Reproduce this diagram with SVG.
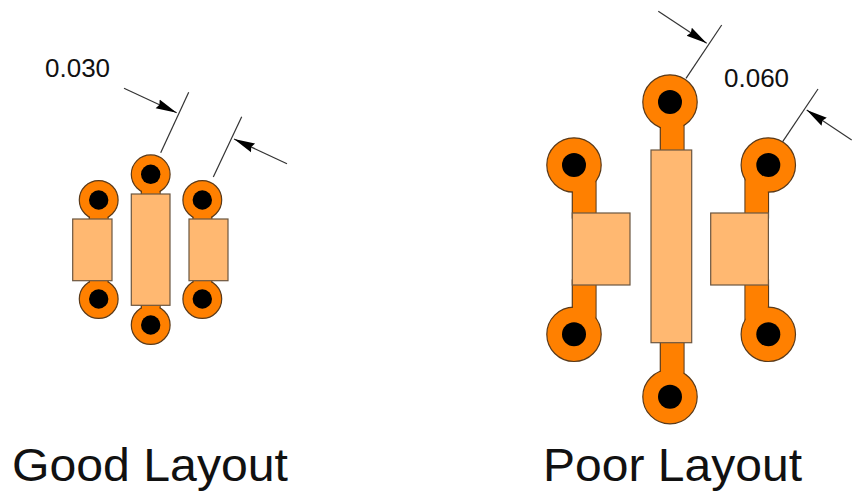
<svg xmlns="http://www.w3.org/2000/svg" width="852" height="491" viewBox="0 0 852 491">
<defs>
<style>
.cu{fill:#ff8000;stroke:#5a3a1a;stroke-width:1.2}
.nofill{fill:#ff8000;stroke:none}
.hole{fill:#000}
.pad{fill:#ffb871;stroke:#6b5640;stroke-width:1.2}
.dim{stroke:#333;stroke-width:1.2;fill:none}
.ar{stroke:#333;stroke-width:1.2;fill:none;marker-end:url(#a)}
text{font-family:"Liberation Sans",Arial,sans-serif;fill:#111}
.v{font-size:26px}
.t{font-size:46px}
</style>
<marker id="a" markerUnits="userSpaceOnUse" markerWidth="24" markerHeight="12" refX="21" refY="5" orient="auto" viewBox="0 0 24 10"><path d="M0 0.2L21 5L0 9.8L2 5Z" fill="#000"/></marker>
</defs>
<rect width="852" height="491" fill="#fff"/>
<g id="good-left">
<rect class="cu" x="89.3" y="205" width="18.8" height="20"/><circle class="cu" cx="98.7" cy="200" r="19.4"/><rect class="nofill" x="90" y="205" width="17.4" height="20"/><circle class="hole" cx="98.7" cy="200" r="9.7"/>
<rect class="cu" x="89.3" y="275" width="18.8" height="20"/><circle class="cu" cx="98.7" cy="299" r="19.4"/><rect class="nofill" x="90" y="275" width="17.4" height="20"/><circle class="hole" cx="98.7" cy="299" r="9.7"/>
<rect class="pad" x="72.7" y="219" width="39.3" height="61.7"/></g>
<g id="good-center">
<rect class="cu" x="141.3" y="180" width="18.8" height="20"/><circle class="cu" cx="150.7" cy="174.3" r="19.4"/><rect class="nofill" x="142" y="180" width="17.4" height="20"/><circle class="hole" cx="150.7" cy="174.3" r="9.7"/>
<rect class="cu" x="141.3" y="300" width="18.8" height="20"/><circle class="cu" cx="150.7" cy="325" r="19.4"/><rect class="nofill" x="142" y="300" width="17.4" height="20"/><circle class="hole" cx="150.7" cy="325" r="9.7"/>
<rect class="pad" x="131.3" y="194" width="38.7" height="111.3"/></g>
<g id="good-right">
<rect class="cu" x="193" y="205" width="18.8" height="20"/><circle class="cu" cx="202.3" cy="200" r="19.4"/><rect class="nofill" x="193.7" y="205" width="17.4" height="20"/><circle class="hole" cx="202.3" cy="200" r="9.7"/>
<rect class="cu" x="193" y="275" width="18.8" height="20"/><circle class="cu" cx="202.3" cy="299" r="19.4"/><rect class="nofill" x="193.7" y="275" width="17.4" height="20"/><circle class="hole" cx="202.3" cy="299" r="9.7"/>
<rect class="pad" x="189" y="219" width="39" height="61.7"/></g>
<g id="poor-left">
<rect class="cu" x="572.3" y="170" width="23.7" height="48"/><circle class="cu" cx="574" cy="165" r="27.2"/><rect class="nofill" x="573" y="170" width="22.3" height="48"/><circle class="hole" cx="574" cy="165" r="12"/>
<rect class="cu" x="572.3" y="280" width="23.7" height="50"/><circle class="cu" cx="574" cy="334.3" r="27.2"/><rect class="nofill" x="573" y="280" width="22.3" height="50"/><circle class="hole" cx="574" cy="334.3" r="12"/>
<rect class="pad" x="572.3" y="213" width="57.7" height="72"/></g>
<g id="poor-center">
<rect class="cu" x="660.3" y="110" width="23.7" height="45"/><circle class="cu" cx="670" cy="102" r="27.2"/><rect class="nofill" x="661" y="110" width="22.3" height="45"/><circle class="hole" cx="670" cy="102" r="12"/>
<rect class="cu" x="660.3" y="338" width="23.7" height="50"/><circle class="cu" cx="670" cy="396.7" r="27.2"/><rect class="nofill" x="661" y="338" width="22.3" height="50"/><circle class="hole" cx="670" cy="396.7" r="12"/>
<rect class="pad" x="651" y="150" width="40.7" height="192.7"/></g>
<g id="poor-right">
<rect class="cu" x="745" y="170" width="23.5" height="48"/><circle class="cu" cx="768.3" cy="165" r="27.2"/><rect class="nofill" x="745.7" y="170" width="22.1" height="48"/><circle class="hole" cx="768.3" cy="165" r="12"/>
<rect class="cu" x="745" y="280" width="23.5" height="50"/><circle class="cu" cx="768.3" cy="334.3" r="27.2"/><rect class="nofill" x="745.7" y="280" width="22.1" height="50"/><circle class="hole" cx="768.3" cy="334.3" r="12"/>
<rect class="pad" x="710.7" y="213" width="57.7" height="72"/></g>
<g id="connectors">
<path class="dim" d="M160.7 152.7L188.7 92.3"/>
<path class="ar" d="M124 88.3L176.7 112.7"/>
<path class="dim" d="M213.3 177L241.7 116.7"/>
<path class="ar" d="M287 163.7L234 139"/>
<path class="dim" d="M686 78.3L721.7 25"/>
<path class="ar" d="M658.3 11.3L706.7 43.3"/>
<path class="dim" d="M782.7 141.7L818 89"/>
<path class="ar" d="M851.7 140L806.7 110"/>
</g>
<g id="labels">
<text class="v" x="45" y="77">0.030</text>
<text class="v" x="724" y="87">0.060</text>
<text class="t" x="12" y="481" textLength="276" lengthAdjust="spacingAndGlyphs">Good Layout</text>
<text class="t" x="543" y="481" textLength="259" lengthAdjust="spacingAndGlyphs">Poor Layout</text>
</g>
</svg>
